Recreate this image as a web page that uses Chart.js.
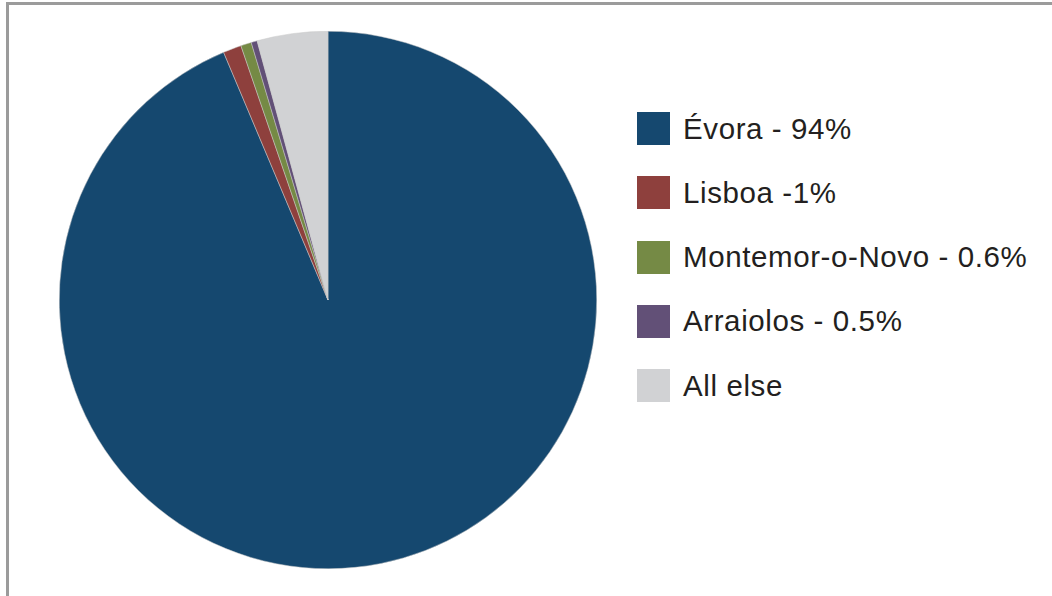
<!DOCTYPE html>
<html>
<head>
<meta charset="utf-8">
<script src="https://cdn.jsdelivr.net/npm/chart.js@4"></script>
<style>
    body { margin: 0; width: 1052px; height: 596px; background: #fff; position: relative; overflow: hidden; }
    #frame { position: absolute; left: 6px; top: 2px; right: -10px; bottom: -10px; border-top: 3px solid #9b9b9b; border-left: 3px solid #9b9b9b; }
    #wrap { position: absolute; left: 59px; top: 31px; width: 538px; height: 538px; }
    #legend { position: absolute; left: 637px; top: 112px; font-family: "Liberation Sans", Arial, sans-serif; font-size: 29.5px; letter-spacing: 0.6px; color: #231f20; }
    .item { display: flex; align-items: center; height: 33px; margin-bottom: 31.3px; }
    .box { width: 33px; height: 33px; margin-right: 13px; }
</style>
</head>
<body>
<div id="frame"></div>
<div id="wrap"><canvas id="pie"></canvas></div>
<div id="legend"></div>
<script>
    // values
    let labels = ['Évora - 94%', 'Lisboa -1%', 'Montemor-o-Novo - 0.6%', 'Arraiolos - 0.5%', 'All else'];
    let shares = [93.65, 1.1, 0.64, 0.36, 4.25];
    let colors = ['#15486f', '#8e403d', '#758a45', '#625077', '#d1d2d4'];

    const legend = document.getElementById('legend');
    labels.forEach(function (lab, i) {
        const row = document.createElement('div');
        row.className = 'item';
        row.innerHTML = '<div class="box" style="background:' + colors[i] + '"></div><span>' + lab + '</span>';
        legend.appendChild(row);
    });

    const ctx = document.getElementById('pie');
    const myChart = new Chart(ctx, {
        type: 'pie',
        data: {
            labels: labels,
            datasets: [{
                data: shares,
                backgroundColor: colors,
                borderColor: '#c8c8c8',
                borderWidth: 0.5
            }]
        },
        options: {
            responsive: true,
            maintainAspectRatio: false,
            animation: false,
            layout: { padding: 0 },
            plugins: {
                legend: { display: false },
                tooltip: { enabled: false }
            }
        }
    });
</script>
</body>
</html>
